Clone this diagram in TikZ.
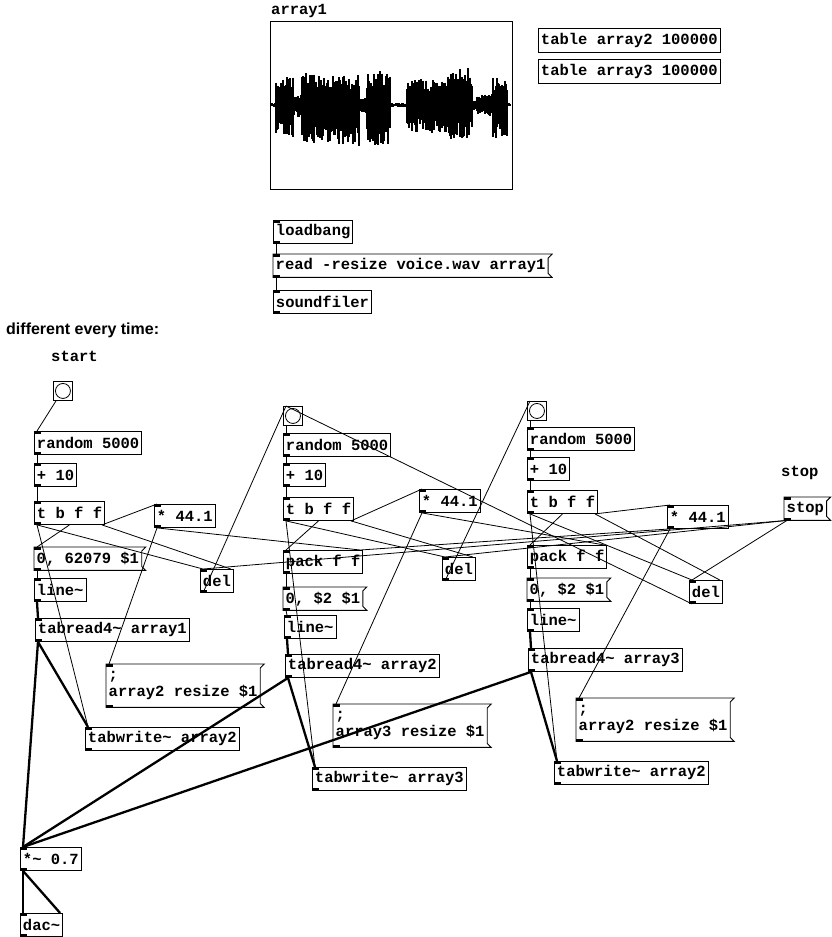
\documentclass[tikz,border=0pt]{standalone}
\usepackage{fontspec}
\newfontfamily\pdmono{Liberation Mono}
\newfontfamily\pdsans{Liberation Sans}
\usetikzlibrary{positioning}

\begin{document}
\begin{tikzpicture}[x=1pt, y=-1pt, font=\pdmono\bfseries\fontsize{15.5}{17}\selectfont,
    obj/.style={draw, line width=0.9pt, anchor=north west, inner xsep=2.5pt, inner ysep=0pt, minimum height=23pt,
      path picture={\fill (path picture bounding box.north west) rectangle ++(7pt,-2.5pt);
                    \fill (path picture bounding box.south west) rectangle ++(7pt,2.5pt);}},
    tbl/.style={draw, line width=0.9pt, anchor=north west, inner xsep=2.5pt, inner ysep=0pt, minimum height=24pt},
    msg/.style={anchor=north west, inner xsep=2.5pt, inner ysep=0pt, minimum height=23pt, align=left,
      execute at end node={\kern4pt},
      append after command={\pgfextra{\let\pdn\tikzlastnode
        \draw[line width=0.9pt] (\pdn.north west) -- (\pdn.north east) -- ([shift={(-4pt,-4pt)}]\pdn.north east)
          -- ([shift={(-4pt,4pt)}]\pdn.south east) -- (\pdn.south east) -- (\pdn.south west) -- cycle;
        \fill (\pdn.north west) rectangle ++(7pt,-2.5pt);
        \fill (\pdn.south west) rectangle ++(7pt,2.5pt);}}},
    bng/.style={draw, line width=0.9pt, anchor=north west, minimum size=19pt, inner sep=0pt,
      path picture={\draw[line width=0.8pt] (path picture bounding box.center) circle (7.5pt);}},
    lbl/.style={anchor=north west, inner sep=0pt},
    ctl/.style={line width=0.8pt},
    sig/.style={line width=2.3pt}]
\useasboundingbox (0,0) rectangle (831,937);

\node[lbl] (arraylbl) at (271,4) {array1};
\node[draw, line width=1.2pt, anchor=north west, minimum width=242pt, minimum height=168pt, inner sep=0pt] (graph) at (270,21) {};
\draw[line width=0.8pt] (271,105) -- (511,105);
\pgfmathsetseed{7}
\foreach \xa/\xb/\up/\dn in {272/275/2/2, 276/293/28/33, 294/301/10/12, 302/330/34/38, 331/359/31/42,
    360/366/8/8, 367/390/34/40, 391/406/2/2, 407/446/26/28, 447/472/38/35, 473/476/6/6,
    477/492/12/12, 493/507/28/33, 508/510/2/2}
  \foreach \x in {\xa,...,\xb} {
    \pgfmathsetmacro\wu{\up*(0.45+0.55*rnd)}
    \pgfmathsetmacro\wd{\dn*(0.45+0.55*rnd)}
    \draw[line width=1.4pt] (\x,105-\wu) -- (\x,105+\wd);
  }

\node[tbl] (tab2) at (538,28) {table array2 100000};
\node[tbl] (tab3) at (538,59) {table array3 100000};

\node[obj] (loadbang) at (273,220) {loadbang};
\node[msg] (readmsg) at (273,254) {read -resize voice.wav array1};
\node[obj] (soundfiler) at (273,290) {soundfiler};

\node[lbl, font=\pdsans\bfseries\fontsize{16}{18}\selectfont] (title) at (6,323) {different every time:};
\node[lbl] (startlbl) at (51,351) {start};
\node[lbl] (stoplbl) at (781,466) {stop};

\node[bng] (bang1) at (53,381) {};
\node[obj] (rand1) at (34,431) {random 5000};
\node[obj] (plus1) at (34,463) {+ 10};
\node[obj] (trig1) at (34,501) {t b f f};
\node[obj] (mul1) at (154,504) {* 44.1};
\node[msg] (seg1) at (34,547) {0, 62079 \$1};
\node[obj] (del1) at (200,569) {del};
\node[obj] (line1) at (34,578) {line\textasciitilde};
\node[obj] (read1) at (35,618) {tabread4\textasciitilde{} array1};
\node[msg, minimum height=43pt] (resize1) at (106,664) {;\\array2 resize \$1};
\node[obj] (write1) at (85,727) {tabwrite\textasciitilde{} array2};
\node[obj] (amp) at (20,847) {*\textasciitilde{} 0.7};
\node[obj] (dac) at (20,913) {dac\textasciitilde};

\node[bng] (bang2) at (283,406) {};
\node[obj] (rand2) at (283,433) {random 5000};
\node[obj] (plus2) at (283,463) {+ 10};
\node[obj] (trig2) at (283,497) {t b f f};
\node[obj] (mul2) at (419,489) {* 44.1};
\node[obj] (pack2) at (283,550) {pack f f};
\node[obj] (del2) at (442,557) {del};
\node[msg] (seg2) at (283,587) {0, \$2 \$1};
\node[obj] (line2) at (284,615) {line\textasciitilde};
\node[obj] (read2) at (285,654) {tabread4\textasciitilde{} array2};
\node[msg, minimum height=43pt] (resize2) at (333,704) {;\\array3 resize \$1};
\node[obj] (write2) at (312,767) {tabwrite\textasciitilde{} array3};

\node[bng] (bang3) at (527,401) {};
\node[obj] (rand3) at (527,427) {random 5000};
\node[obj] (plus3) at (527,457) {+ 10};
\node[obj] (trig3) at (527,490) {t b f f};
\node[obj] (mul3) at (667,505) {* 44.1};
\node[msg] (stopmsg) at (784,497) {stop};
\node[obj] (pack3) at (527,545) {pack f f};
\node[msg] (seg3) at (527,578) {0, \$2 \$1};
\node[obj] (del3) at (689,580) {del};
\node[obj] (line3) at (527,608) {line\textasciitilde};
\node[obj] (read3) at (528,648) {tabread4\textasciitilde{} array3};
\node[msg, minimum height=43pt] (resize3) at (576,698) {;\\array2 resize \$1};
\node[obj] (write3) at (554,761) {tabwrite\textasciitilde{} array2};

\draw[ctl] ([xshift=3pt]loadbang.south west) -- ([xshift=3pt]readmsg.north west);
\draw[ctl] ([xshift=3pt]readmsg.south west) -- ([xshift=3pt]soundfiler.north west);

\draw[ctl] ([xshift=3pt]bang1.south west) -- ([xshift=3pt]rand1.north west);
\draw[ctl] ([xshift=3pt]rand1.south west) -- ([xshift=3pt]plus1.north west);
\draw[ctl] ([xshift=3pt]plus1.south west) -- ([xshift=3pt]trig1.north west);
\draw[ctl] ([xshift=3pt]trig1.south west) -- ([xshift=3pt]write1.north west);
\draw[ctl] ([xshift=3pt]trig1.south west) -- ([xshift=3pt]del1.north west);
\draw[ctl] (trig1.south) -- ([xshift=3pt]seg1.north west);
\draw[ctl] ([xshift=-3pt]trig1.south east) -- ([xshift=3pt]mul1.north west);
\draw[ctl] ([xshift=-3pt]trig1.south east) -- ([xshift=-3pt]del1.north east);
\draw[ctl] ([xshift=3pt]mul1.south west) -- ([xshift=3pt]resize1.north west);
\draw[ctl] ([xshift=3pt]mul1.south west) -- ([xshift=-3pt]pack2.north east);
\draw[ctl] ([xshift=3pt]seg1.south west) -- ([xshift=3pt]line1.north west);
\draw[ctl] ([xshift=3pt]del1.south west) -- ([xshift=3pt]bang2.north west);

\draw[ctl] ([xshift=3pt]bang2.south west) -- ([xshift=3pt]rand2.north west);
\draw[ctl] ([xshift=3pt]rand2.south west) -- ([xshift=3pt]plus2.north west);
\draw[ctl] ([xshift=3pt]plus2.south west) -- ([xshift=3pt]trig2.north west);
\draw[ctl] ([xshift=3pt]trig2.south west) -- ([xshift=3pt]write2.north west);
\draw[ctl] ([xshift=3pt]trig2.south west) -- ([xshift=3pt]del2.north west);
\draw[ctl] (trig2.south) -- ([xshift=3pt]pack2.north west);
\draw[ctl] ([xshift=-3pt]trig2.south east) -- ([xshift=3pt]mul2.north west);
\draw[ctl] ([xshift=-3pt]trig2.south east) -- ([xshift=-3pt]del2.north east);
\draw[ctl] ([xshift=3pt]mul2.south west) -- ([xshift=3pt]resize2.north west);
\draw[ctl] ([xshift=3pt]mul2.south west) -- ([xshift=-3pt]pack3.north east);
\draw[ctl] ([xshift=3pt]pack2.south west) -- ([xshift=3pt]seg2.north west);
\draw[ctl] ([xshift=3pt]seg2.south west) -- ([xshift=3pt]line2.north west);
\draw[ctl] ([xshift=3pt]del2.south west) -- ([xshift=3pt]bang3.north west);

\draw[ctl] ([xshift=3pt]bang3.south west) -- ([xshift=3pt]rand3.north west);
\draw[ctl] ([xshift=3pt]rand3.south west) -- ([xshift=3pt]plus3.north west);
\draw[ctl] ([xshift=3pt]plus3.south west) -- ([xshift=3pt]trig3.north west);
\draw[ctl] ([xshift=3pt]trig3.south west) -- ([xshift=3pt]write3.north west);
\draw[ctl] ([xshift=3pt]trig3.south west) -- ([xshift=3pt]del3.north west);
\draw[ctl] (trig3.south) -- ([xshift=3pt]pack3.north west);
\draw[ctl] ([xshift=-3pt]trig3.south east) -- ([xshift=3pt]mul3.north west);
\draw[ctl] ([xshift=-3pt]trig3.south east) -- ([xshift=-3pt]del3.north east);
\draw[ctl] ([xshift=3pt]mul3.south west) -- ([xshift=3pt]resize3.north west);
\draw[ctl] ([xshift=3pt]mul3.south west) -- ([xshift=-3pt]pack2.north east);
\draw[ctl] ([xshift=3pt]pack3.south west) -- ([xshift=3pt]seg3.north west);
\draw[ctl] ([xshift=3pt]seg3.south west) -- ([xshift=3pt]line3.north west);
\draw[ctl] ([xshift=3pt]del3.south west) -- ([xshift=3pt]bang2.north west);

\draw[ctl] ([xshift=3pt]stopmsg.south west) -- ([xshift=3pt]del1.north west);
\draw[ctl] ([xshift=3pt]stopmsg.south west) -- ([xshift=3pt]del2.north west);
\draw[ctl] ([xshift=3pt]stopmsg.south west) -- ([xshift=3pt]del3.north west);

\draw[sig] ([xshift=3pt]line1.south west) -- ([xshift=3pt]read1.north west);
\draw[sig] ([xshift=3pt]read1.south west) -- ([xshift=3pt]write1.north west);
\draw[sig] ([xshift=3pt]read1.south west) -- ([xshift=3pt]amp.north west);
\draw[sig] ([xshift=3pt]line2.south west) -- ([xshift=3pt]read2.north west);
\draw[sig] ([xshift=3pt]read2.south west) -- ([xshift=3pt]write2.north west);
\draw[sig] ([xshift=3pt]read2.south west) -- ([xshift=3pt]amp.north west);
\draw[sig] ([xshift=3pt]line3.south west) -- ([xshift=3pt]read3.north west);
\draw[sig] ([xshift=3pt]read3.south west) -- ([xshift=3pt]write3.north west);
\draw[sig] ([xshift=3pt]read3.south west) -- ([xshift=3pt]amp.north west);
\draw[sig] ([xshift=3pt]amp.south west) -- ([xshift=3pt]dac.north west);
\draw[sig] ([xshift=3pt]amp.south west) -- ([xshift=-3pt]dac.north east);
\end{tikzpicture}
\end{document}
